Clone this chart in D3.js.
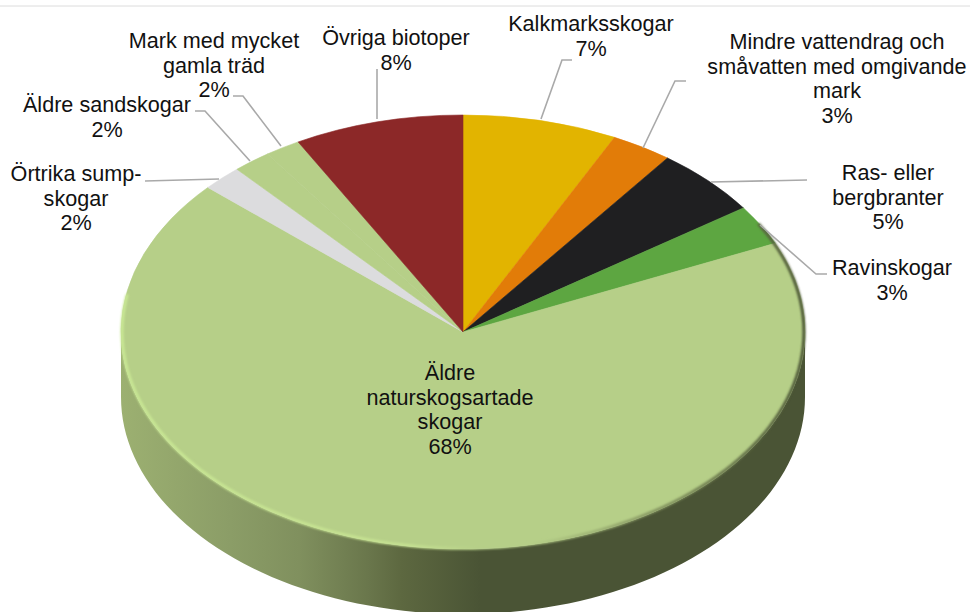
<!DOCTYPE html>
<html><head><meta charset="utf-8">
<script src="https://cdn.jsdelivr.net/npm/d3@7"></script>
<style>html,body{margin:0;background:#fff}svg{display:block}text{font-family:"Liberation Sans",Arial,sans-serif;font-size:21.6px;fill:#111}</style>
</head><body><svg id="c" width="970" height="612"></svg>
<script>
const categories=["Kalkmarksskogar","Mindre vattendrag och småvatten med omgivande mark","Ras- eller bergbranter","Ravinskogar","Äldre naturskogsartade skogar","Örtrika sump-skogar","Äldre sandskogar","Mark med mycket gamla träd","Övriga biotoper"];
const sliceValues=[7.3,2.9,5.1,3.0,68.3,1.9,1.8,1.7,8.0];
const percentLabels=["7%","3%","5%","3%","68%","2%","2%","2%","8%"];
const colors=["#e2b400","#e27c08","#1f1f21","#5da641","#b6cf88","#dcdcde","#b6cf88","#b6cf88","#8c2828"];
const labelLines=[["Kalkmarksskogar"],["Mindre vattendrag och","småvatten med omgivande","mark"],["Ras- eller","bergbranter"],["Ravinskogar"],["Äldre","naturskogsartade","skogar"],["Örtrika sump-","skogar"],["Äldre sandskogar"],["Mark med mycket","gamla träd"],["Övriga biotoper"]];
const labelAnchors=[[591,31],[837,49],[888,180],[892,275],[450,380],[76,181],[107,112],[214,48],[396,45]];
const leaders=[[[541,119],[562,60],[572,60]],[[643,148],[675,81],[686,81]],[[711,182],[807,180]],[[760,225],[816,274],[827,274]],null,[[219,179],[145,181]],[[250,161],[205,111],[195,111]],[[281,146],[243,96],[233,96]],[[377,119],[377,69]]];
const cx=463,cy=332,rx=342,ry=217,depth=65;
const svg=d3.select("#c"),defs=svg.append("defs");
const sx=d3.scaleLinear().domain([-1,1]).range([cx-rx,cx+rx]);
const sy=d3.scaleLinear().domain([-1,1]).range([cy-ry,cy+ry]);

svg.append("line").attr("x1",0).attr("x2",970).attr("y1",6).attr("y2",6).attr("stroke","#dcdcdc").attr("stroke-width",1);

const g=defs.append("linearGradient").attr("id","wall").attr("gradientUnits","userSpaceOnUse").attr("x1",cx-rx).attr("x2",cx+rx).attr("y1",0).attr("y2",0);
[[0,"#9cb071"],[.16,"#8b9d67"],[.26,"#80905e"],[.36,"#6a774c"],[.41,"#5d6840"],[.525,"#4a5435"],[1,"#4a5435"]].forEach(s=>g.append("stop").attr("offset",s[0]).attr("stop-color",s[1]));
const rim=defs.append("linearGradient").attr("id","rim").attr("gradientUnits","userSpaceOnUse").attr("x1",cx-rx).attr("x2",cx+rx).attr("y1",0).attr("y2",0);
[[0,"#c9e894"],[.42,"#c6e292"],[.52,"#b6cf88"],[.6,"#b6cf88"],[.8,"#7f8f5c"],[1,"#4a5435"]].forEach(s=>rim.append("stop").attr("offset",s[0]).attr("stop-color",s[1]));
defs.append("filter").attr("id","soft").append("feGaussianBlur").attr("stdDeviation",.8);

const pts=d3.range(0,181,2).map(a=>{const t=a*Math.PI/180;return [sx(Math.cos(t)),sy(Math.sin(t))]});
const ln=d3.line();
const wall=pts.concat(pts.slice().reverse().map(p=>[p[0],p[1]+depth]));
svg.append("path").attr("d",ln(wall)+"Z").attr("fill","url(#wall)");

const pie=d3.pie().sort(null).value(d=>d)(sliceValues);
const arc=d3.arc().innerRadius(0).outerRadius(1);
const topFace=svg.append("g").attr("transform",`translate(${cx},${cy}) scale(${rx},${ry})`);
topFace.selectAll("path").data(pie).join("path").attr("d",arc).attr("fill",(d,i)=>colors[i])
  .attr("stroke",(d,i)=>colors[i]).attr("stroke-width",.6).attr("vector-effect","non-scaling-stroke");

const rimPts=d3.range(-30,192,2).map(a=>{const t=a*Math.PI/180;return [sx(Math.cos(t)*.997),sy(Math.sin(t)*.997)]});
svg.append("path").attr("d",ln(rimPts)).attr("fill","none").attr("stroke","url(#rim)").attr("stroke-width",3).attr("filter","url(#soft)");

svg.selectAll("path.lead").data(leaders.filter(Boolean)).join("path").attr("class","lead").attr("d",d=>ln(d)).attr("fill","none").attr("stroke","#a9a9a9").attr("stroke-width",1.6);

const lh=24.7;
categories.forEach((c,i)=>{
  const lines=labelLines[i].concat(percentLabels[i]);
  const a=labelAnchors[i];
  const t=svg.append("text").attr("text-anchor","middle");
  lines.forEach((s,k)=>t.append("tspan").attr("x",a[0]).attr("y",a[1]+k*lh).text(s));
});
</script></body></html>
